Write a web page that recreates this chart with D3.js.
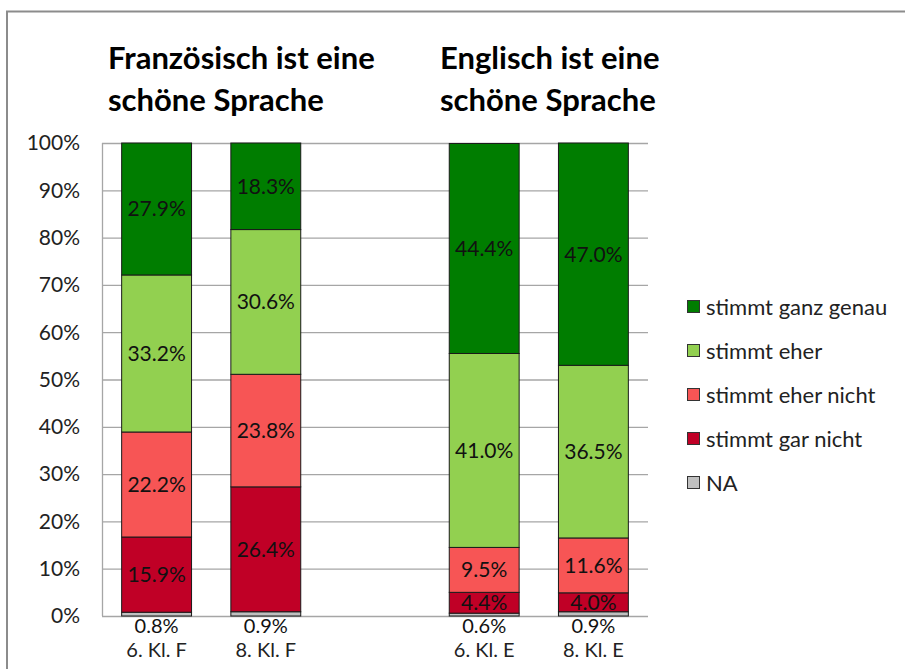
<!DOCTYPE html>
<html><head><meta charset="utf-8">
<script src="https://cdn.jsdelivr.net/npm/d3@7"></script>
<style>body{margin:0;background:#fff}svg{display:block}text{font-family:Lato,"Open Sans",sans-serif}</style>
</head><body><svg id="c" width="905" height="669"></svg>
<script>
const categories = ["6. Kl. F", "8. Kl. F", "", "6. Kl. E", "8. Kl. E"];
const seriesNames = ["NA", "stimmt gar nicht", "stimmt eher nicht", "stimmt eher", "stimmt ganz genau"];
const seriesColors = ["#C0C0C0", "#C00026", "#F75555", "#92D050", "#007D00"];
const NA = [0.8, 0.9, null, 0.6, 0.9];
const garNicht = [15.9, 26.4, null, 4.4, 4.0];
const eherNicht = [22.2, 23.8, null, 9.5, 11.6];
const eher = [33.2, 30.6, null, 41.0, 36.5];
const ganzGenau = [27.9, 18.3, null, 44.4, 47.0];
const yTicks = [0, 10, 20, 30, 40, 50, 60, 70, 80, 90, 100];
const titles = [["Französisch ist eine", "schöne Sprache"], ["Englisch ist eine", "schöne Sprache"]];

const series = [NA, garNicht, eherNicht, eher, ganzGenau];
const svg = d3.select("#c");
const m = {l: 102, r: 648, t: 143, b: 616};
const fs = 21;

// frame
svg.append("rect").attr("x", 7).attr("y", 11.5).attr("width", 1000).attr("height", 1000)
  .attr("fill", "none").attr("stroke", "#8c8c8c").attr("stroke-width", 2);

const x = d3.scaleBand().domain(categories.map((c, i) => i)).range([m.l, m.r]).paddingInner(0.36).paddingOuter(0.18);
const y = d3.scaleLinear().domain([0, 100]).range([m.b, m.t]);

// gridlines
svg.append("g").selectAll("line").data(yTicks).join("line")
  .attr("x1", m.l).attr("x2", m.r).attr("y1", d => y(d) + 0.5).attr("y2", d => y(d) + 0.5)
  .attr("stroke", "#a6a6a6").attr("stroke-width", 1.3);
svg.append("line").attr("x1", m.l + 0.5).attr("x2", m.l + 0.5).attr("y1", m.t).attr("y2", m.b)
  .attr("stroke", "#a6a6a6").attr("stroke-width", 1.3);

// y labels
svg.append("g").selectAll("text").data(yTicks).join("text")
  .attr("x", 80).attr("y", d => y(d)).attr("dy", "0.35em").attr("text-anchor", "end")
  .attr("font-size", fs).attr("fill", "#222").text(d => d + "%");

// stack
const data = categories.map((c, i) => {
  const o = {i};
  seriesNames.forEach((s, k) => o[s] = series[k][i] || 0);
  return o;
});
const stacked = d3.stack().keys(seriesNames)(data);
const g = svg.append("g");
stacked.forEach((layer, k) => {
  layer.forEach((d, i) => {
    if (series[k][i] == null) return;
    g.append("rect").attr("x", x(i)).attr("width", x.bandwidth())
      .attr("y", y(d[1])).attr("height", y(d[0]) - y(d[1]))
      .attr("fill", seriesColors[k]).attr("stroke", "#1a1a1a").attr("stroke-width", 1);
  });
});
// labels
stacked.forEach((layer, k) => {
  layer.forEach((d, i) => {
    const v = series[k][i];
    if (v == null) return;
    const cx = x(i) + x.bandwidth() / 2;
    const cy = k === 0 ? m.b + 9.5 : (y(d[0]) + y(d[1])) / 2;
    svg.append("text").attr("x", cx).attr("y", cy).attr("dy", "0.35em")
      .attr("text-anchor", "middle").attr("font-size", k === 0 ? 20 : fs).attr("fill", "#111")
      .text(v.toFixed(1) + "%");
  });
});
// category labels
svg.append("g").selectAll("text").data(categories).join("text")
  .attr("x", (d, i) => x(i) + x.bandwidth() / 2).attr("y", 649.5).attr("dy", "0.35em")
  .attr("text-anchor", "middle").attr("font-size", 20).attr("fill", "#222").text(d => d);

// titles
const tx = [108, 440];
titles.forEach((t, j) => {
  t.forEach((line, li) => {
    svg.append("text").attr("x", tx[j]).attr("y", 58 + li * 42).attr("dy", "0.35em")
      .attr("font-size", 31).attr("font-weight", "bold").attr("fill", "#000").text(line);
  });
});

// legend
const legOrder = [4, 3, 2, 1, 0];
legOrder.forEach((k, r) => {
  const ly = 307 + r * 44;
  svg.append("rect").attr("x", 687.5).attr("y", ly - 6.5).attr("width", 12).attr("height", 12)
    .attr("fill", seriesColors[k]).attr("stroke", "#333").attr("stroke-width", 1);
  svg.append("text").attr("x", 706).attr("y", ly).attr("dy", "0.35em")
    .attr("font-size", 22).attr("fill", "#222").text(seriesNames[k]);
});
</script></body></html>
